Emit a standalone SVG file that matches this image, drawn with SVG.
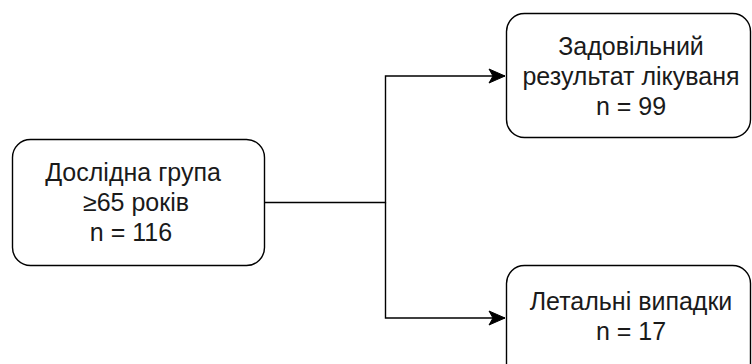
<svg xmlns="http://www.w3.org/2000/svg" width="752" height="364" viewBox="0 0 752 364">
<style>
.box{fill:#ffffff;stroke:#000000;stroke-width:1.4}
.lbl{font-family:"Liberation Sans",Arial,Helvetica,sans-serif;font-size:25px;fill:#1a1a1a;text-anchor:middle}
.conn{fill:none;stroke:#000000;stroke-width:1.4}
</style>
<defs>
<marker id="arr" markerUnits="userSpaceOnUse" markerWidth="20" markerHeight="18" refX="17" refY="8" orient="auto">
<path d="M1,1 L17,8 L1,15 L5,8 Z" fill="#000000" stroke="#000000" stroke-width="1"/>
</marker>
</defs>
<rect width="752" height="364" fill="#ffffff"/>
<g id="connectors">
<path class="conn" d="M265,202.5 H385.5 V76 H505" marker-end="url(#arr)"/>
<path class="conn" d="M385.5,202.5 V318 H505" marker-end="url(#arr)"/>
</g>
<g id="node-group">
<rect class="box" x="12.5" y="139.5" width="252" height="126" rx="18" ry="18"/>
<text class="lbl" x="133" y="181">Дослідна група</text>
<text class="lbl" x="136" y="211">≥65 років</text>
<text class="lbl" x="131" y="241">n = 116</text>
</g>
<g id="node-success">
<rect class="box" x="506.5" y="13.5" width="244" height="124" rx="18" ry="18"/>
<text class="lbl" x="631" y="55">Задовільний</text>
<text class="lbl" x="631" y="85">результат лікуваня</text>
<text class="lbl" x="631" y="115">n = 99</text>
</g>
<g id="node-lethal">
<rect class="box" x="506.5" y="265.5" width="244" height="124" rx="18" ry="18"/>
<text class="lbl" x="631" y="310">Летальні випадки</text>
<text class="lbl" x="631" y="340">n = 17</text>
</g>
</svg>
